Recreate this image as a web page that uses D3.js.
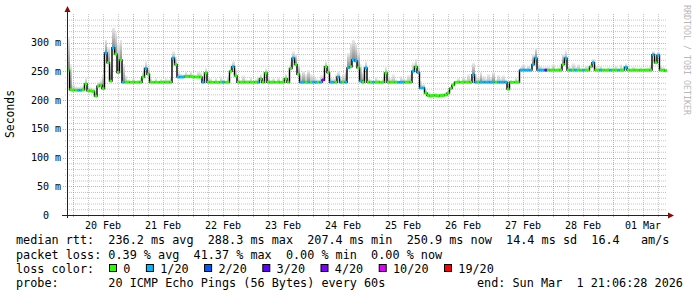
<!DOCTYPE html>
<html>
<head>
<meta charset="utf-8">
<script src="https://cdn.jsdelivr.net/npm/d3@7"></script>
<style>
  html, body { margin: 0; padding: 0; background: #fff; }
  svg text { font-family: 'DejaVu Sans Mono', monospace; white-space: pre; fill: #000; }
</style>
</head>
<body>
<div id="chart"></div>
<script>
// one sample per hour, 10 days, one row per day
const medianMs = [
  252,218,217,217,217,217,218,228,216,216,215,207,224,226,220,282,265,233,291,280,248,270,231,231,
  231,231,231,231,231,231,240,255,245,231,231,231,231,231,231,231,231,231,273,262,240,240,240,241,
  241,241,240,240,240,240,231,247,231,231,231,231,231,231,231,231,231,250,258,242,231,231,231,231,
  231,231,231,231,231,237,231,247,231,231,231,231,231,231,231,237,231,255,273,262,245,231,231,231,
  231,231,231,231,231,231,235,258,248,231,231,231,240,231,231,231,256,258,270,268,256,233,231,256,
  231,231,231,231,231,231,231,247,231,231,231,231,231,231,231,231,231,231,250,258,248,221,221,212,
  208,207,208,208,207,208,208,209,212,220,226,231,231,231,231,231,231,231,244,231,231,231,231,231,
  231,231,231,231,231,231,231,231,219,231,231,231,231,252,252,252,252,252,262,273,252,252,252,252,
  252,252,252,252,252,252,262,273,252,252,252,252,252,252,252,252,252,258,265,252,252,252,252,252,
  252,252,252,252,252,252,252,257,252,252,252,252,252,252,252,252,252,252,279,265,278,252,252,251
]

const maxMs = [
  310,262,228,224,223,224,226,240,224,222,221,214,232,236,245,305,292,262,326,318,300,305,262,244,
  236,234,237,234,235,240,250,268,258,238,234,238,234,237,235,238,236,242,285,276,250,246,245,250,
  246,250,245,244,250,248,240,256,240,238,234,238,234,241,236,234,242,262,268,255,238,235,243,236,
  235,240,234,237,241,245,236,255,240,235,238,234,239,234,240,246,240,268,285,280,262,244,250,246,
  252,246,244,238,236,244,244,268,262,240,238,246,250,238,246,252,282,300,305,298,285,262,248,268,
  238,236,234,240,236,234,238,258,242,238,245,236,234,242,238,236,244,246,265,272,262,234,228,220,
  214,212,212,213,211,212,213,214,218,224,230,234,238,234,240,236,246,238,264,246,240,248,242,238,
  246,240,248,236,244,238,243,236,230,235,234,240,236,258,262,256,260,255,280,291,262,260,257,258,
  258,256,262,255,257,262,280,287,260,257,264,258,262,256,255,260,257,262,272,260,257,260,256,255,
  257,255,257,260,255,262,257,264,257,255,258,256,255,257,255,256,257,262,285,276,284,260,257,255
]

// lost pings out of 20 per sample
const lostPings = [
  0,0,0,0,1,1,0,0,0,0,0,0,0,0,0,1,0,0,1,0,0,0,1,0,
  0,0,0,0,0,0,0,1,0,0,0,0,0,0,0,0,0,0,1,0,1,1,1,0,
  0,0,0,0,0,0,1,0,0,0,0,0,0,0,1,0,0,0,1,0,0,0,0,0,
  0,0,0,0,1,0,0,0,0,0,0,0,0,0,0,0,0,0,1,0,0,1,1,0,
  1,0,1,1,0,1,4,0,0,1,1,0,1,1,0,1,1,0,1,1,0,1,0,1,
  0,0,1,0,0,0,0,0,0,0,0,0,1,1,1,0,0,0,1,0,1,1,1,0,
  0,0,0,0,0,0,0,0,0,0,0,0,0,0,0,0,0,0,1,1,0,1,1,1,
  1,1,1,0,1,1,1,1,0,0,0,0,0,1,1,1,1,1,1,1,1,1,1,3,
  0,0,0,0,0,0,0,1,0,1,0,1,0,0,1,0,0,0,1,0,0,1,0,0,
  0,1,0,0,1,0,0,1,0,0,0,0,0,0,0,0,0,0,1,0,1,0,0,0
]

const lossSteps = [0, 1, 2, 3, 4, 10, 19]
const lossLabels = ['0', '1/20', '2/20', '3/20', '4/20', '10/20', '19/20']
const lossColors = ['#26ff00', '#00b8ff', '#0059ff', '#5e00ff', '#7e00ff', '#dd00ff', '#ff0000']

const yTicks = [0, 50, 100, 150, 200, 250, 300]
const yTickLabels = ['0  ', '50 m', '100 m', '150 m', '200 m', '250 m', '300 m']
const dayLabels = ['20 Feb', '21 Feb', '22 Feb', '23 Feb', '24 Feb', '25 Feb', '26 Feb', '27 Feb', '28 Feb', '01 Mar']

const statsRows = [
  'median rtt:  236.2 ms avg  288.3 ms max  207.4 ms min  250.9 ms now  14.4 ms sd  16.4   am/s',
  'packet loss: 0.39 % avg  41.37 % max  0.00 % min  0.00 % now'
]
const probeText = 'probe:       20 ICMP Echo Pings (56 Bytes) every 60s'
const endText = 'end: Sun Mar  1 21:06:28 2026'

const width = 697
const height = 297
const plot = { left: 67, right: 667, top: 15, bottom: 215 }
const startTime = new Date(Date.UTC(2026, 1, 19, 21, 36))
const endTime = new Date(Date.UTC(2026, 2, 1, 21, 36))
const hour = 3600 * 1000

const times = medianMs.map((_, i) => new Date(+startTime + i * hour))

const svg = d3.select('#chart').append('svg').attr('width', width).attr('height', height)
svg.append('rect').attr('width', width).attr('height', height).attr('fill', '#fff')

const xScale = d3.scaleUtc().domain([startTime, endTime]).range([plot.left, plot.right])
const yScale = d3.scaleLinear().domain([0, 348]).range([plot.bottom, plot.top])

const lossColor = n => lossColors[d3.bisectRight(lossSteps, n) - 1]

// grid
const minorColor = 'rgba(150,150,150,0.55)'
const majorColor = 'rgba(222,80,80,0.55)'
const grid = svg.append('g')

grid.selectAll('line.hmin')
  .data(d3.range(10, 348, 10).filter(v => v % 50 !== 0))
  .enter().append('line')
  .attr('x1', plot.left - 2).attr('x2', plot.right)
  .attr('y1', d => yScale(d) + 0.5).attr('y2', d => yScale(d) + 0.5)
  .attr('stroke', minorColor).attr('stroke-dasharray', '1,1')

grid.selectAll('line.vmin')
  .data(d3.utcHour.every(6).range(startTime, endTime).filter(d => d.getUTCHours() !== 0))
  .enter().append('line')
  .attr('x1', d => Math.round(xScale(d)) + 0.5).attr('x2', d => Math.round(xScale(d)) + 0.5)
  .attr('y1', plot.top - 1).attr('y2', plot.bottom + 2)
  .attr('stroke', minorColor).attr('stroke-dasharray', '1,1')

grid.selectAll('line.hmaj')
  .data(yTicks.filter(v => v > 0))
  .enter().append('line')
  .attr('x1', plot.left - 4).attr('x2', plot.right)
  .attr('y1', d => Math.round(yScale(d)) + 0.5).attr('y2', d => Math.round(yScale(d)) + 0.5)
  .attr('stroke', majorColor).attr('stroke-dasharray', '1,1')

const days = d3.utcDay.range(startTime, endTime)
grid.selectAll('line.vmaj')
  .data(days)
  .enter().append('line')
  .attr('x1', d => Math.round(xScale(d)) + 0.5).attr('x2', d => Math.round(xScale(d)) + 0.5)
  .attr('y1', plot.top - 1).attr('y2', plot.bottom + 3)
  .attr('stroke', majorColor).attr('stroke-dasharray', '1,1')

// smoke
const defs = svg.append('defs')
const grad = defs.append('linearGradient').attr('id', 'smoke')
  .attr('x1', 0).attr('y1', 0).attr('x2', 0).attr('y2', 1)
grad.append('stop').attr('offset', '0%').attr('stop-color', '#ececec')
grad.append('stop').attr('offset', '100%').attr('stop-color', '#8a8a8a')

svg.append('g').selectAll('rect')
  .data(times)
  .enter().append('rect')
  .attr('x', d => xScale(d))
  .attr('width', d => xScale(new Date(+d + hour)) - xScale(d))
  .attr('y', (d, i) => yScale(maxMs[i]))
  .attr('height', (d, i) => yScale(medianMs[i]) - yScale(maxMs[i]))
  .attr('fill', 'url(#smoke)')
  .attr('opacity', (d, i) => maxMs[i] - medianMs[i] > 15 ? 1 : 0.6)
  .attr('shape-rendering', 'crispEdges')

// median: black step line, then colour by loss
const stepPoints = times.map((t, i) => [t, medianMs[i]])
stepPoints.push([endTime, medianMs[medianMs.length - 1]])

svg.append('path')
  .datum(stepPoints)
  .attr('fill', 'none')
  .attr('stroke', '#000')
  .attr('stroke-width', 1.4)
  .attr('d', d3.line().x(d => xScale(d[0])).y(d => yScale(d[1])).curve(d3.curveStepAfter))

svg.append('g').selectAll('line')
  .data(times)
  .enter().append('line')
  .attr('x1', d => xScale(d))
  .attr('x2', d => xScale(new Date(+d + hour)))
  .attr('y1', (d, i) => yScale(medianMs[i]))
  .attr('y2', (d, i) => yScale(medianMs[i]))
  .attr('stroke', (d, i) => lossColor(lostPings[i]))
  .attr('stroke-width', 2.8)

// axes
const axisColor = '#222'
const arrowColor = '#8a0a0a'
svg.append('line')
  .attr('x1', plot.left - 5).attr('x2', plot.right + 4)
  .attr('y1', plot.bottom + 0.5).attr('y2', plot.bottom + 0.5)
  .attr('stroke', axisColor)
svg.append('line')
  .attr('x1', plot.left + 0.5).attr('x2', plot.left + 0.5)
  .attr('y1', plot.bottom + 3).attr('y2', plot.top - 4)
  .attr('stroke', axisColor)
svg.append('path')
  .attr('d', `M${plot.right + 1},${plot.bottom - 2.5} L${plot.right + 7},${plot.bottom + 0.5} L${plot.right + 1},${plot.bottom + 3.5} Z`)
  .attr('fill', arrowColor)
svg.append('path')
  .attr('d', `M${plot.left - 2.5},${plot.top - 3} L${plot.left + 0.5},${plot.top - 9} L${plot.left + 3.5},${plot.top - 3} Z`)
  .attr('fill', arrowColor)

// tick labels
svg.append('g').selectAll('text')
  .data(yTicks)
  .enter().append('text')
  .attr('x', 61)
  .attr('y', d => yScale(d) + 3.6)
  .attr('text-anchor', 'end')
  .style('font-size', '10px')
  .text((d, i) => yTickLabels[i])

svg.append('g').selectAll('text')
  .data(days)
  .enter().append('text')
  .attr('x', d => xScale(new Date(+d + 12 * hour)))
  .attr('y', 228.5)
  .attr('text-anchor', 'middle')
  .style('font-size', '10px')
  .text((d, i) => dayLabels[i])

svg.append('text')
  .attr('transform', 'translate(14,114) rotate(-90)')
  .attr('text-anchor', 'middle')
  .style('font-size', '11.4px')
  .text('Seconds')

svg.append('text')
  .attr('transform', 'translate(684,5) rotate(90)')
  .style('font-size', '8.3px')
  .style('fill', '#b8b8b8')
  .text('RRDTOOL / TOBI OETIKER')

// legend
const legendSize = '11.8px'
const rowY = [244.3, 258.6, 272.8, 287]
statsRows.forEach((row, i) => {
  svg.append('text').attr('x', 16).attr('y', rowY[i]).style('font-size', legendSize).text(row)
})
svg.append('text').attr('x', 16).attr('y', rowY[2]).style('font-size', legendSize).text('loss color:')

let boxX = 109
lossLabels.forEach((label, i) => {
  svg.append('rect')
    .attr('x', boxX + 0.5).attr('y', 264.5).attr('width', 7).attr('height', 7)
    .attr('fill', lossColors[i]).attr('stroke', '#000')
  svg.append('text').attr('x', boxX + 14.3).attr('y', rowY[2])
    .style('font-size', legendSize).text(label)
  boxX += label.length * 7.1 + 29.8
})

svg.append('text').attr('x', 16).attr('y', rowY[3]).style('font-size', legendSize).text(probeText)
svg.append('text').attr('x', 477).attr('y', rowY[3]).style('font-size', legendSize).text(endText)
</script>
</body>
</html>
